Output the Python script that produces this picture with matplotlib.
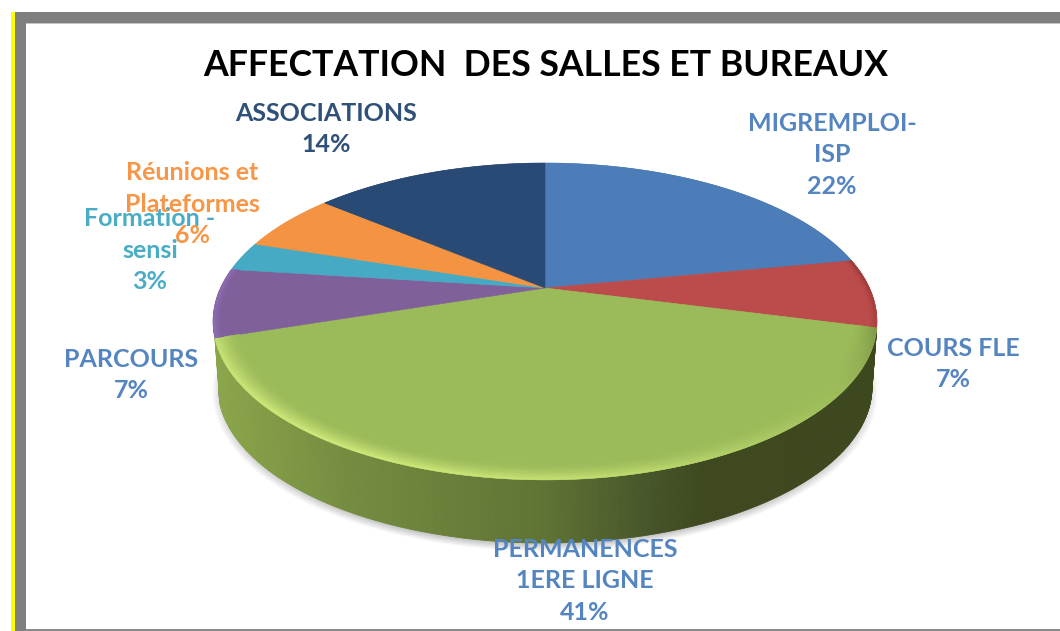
import numpy as np
import matplotlib
matplotlib.use("Agg")
import matplotlib.pyplot as plt
from matplotlib.collections import PolyCollection
from matplotlib.colors import to_rgb, LinearSegmentedColormap
from matplotlib.patches import Polygon, Rectangle

# ---- data ----
title = "AFFECTATION  DES SALLES ET BUREAUX"
categories = ["MIGREMPLOI-\nISP", "COURS FLE", "PERMANENCES\n1ERE LIGNE", "PARCOURS",
              "Formation -\nsensi", "Réunions et\nPlateformes", "ASSOCIATIONS"]
values = [22, 7, 41, 7, 3, 6, 14]
face_colors = ["#4c7db8", "#bb4c4b", "#9bba59", "#7f609a", "#46aac4", "#f49443", "#294a74"]
wall_colors = ["#3c6290", "#6e2524", "#6f8a3c", "#8366a8", "#3a8ca2", "#c0702e", "#1e3654"]
label_colors = ["#5585c0", "#5585c0", "#5585c0", "#5585c0", "#4bacc6", "#f79646", "#2f5078"]
label_xy = [(832, 155), (953, 364), (585, 581), (131, 375), (150, 250), (192, 204), (326, 129)]

# ---- projection of the tilted disc onto the picture ----
CX, CY, A, B, K = 545.0, 288.0, 324.5, 151.4, 0.211
DEPTH, BOTTOM_SCALE = 66.0, 0.985


def project(theta, r=1.0, dy=0.0, s=1.0):
    u, v = r * np.sin(theta), r * np.cos(theta)
    w = 1 + K * v
    return np.column_stack([CX + s * A * u / w, CY + dy - s * B * v / w])


def blend(c1, c2, t):
    return tuple(np.array(to_rgb(c1)) * (1 - t) + np.array(to_rgb(c2)) * t)


fig = plt.figure(figsize=(10.6, 6.31), dpi=100, facecolor="white")
ax = fig.add_axes([0, 0, 1, 1])
ax.set_xlim(0, 1060)
ax.set_ylim(631, 0)
ax.axis("off")

# ---- frame ----
ax.add_patch(Rectangle((11, 12), 4.5, 619, fc="#ffff00", ec="none", zorder=1))
ax.add_patch(Rectangle((15, 12), 1045, 11, fc="#7f7f7f", ec="none", zorder=2))
ax.add_patch(Rectangle((15, 12), 11, 619, fc="#7f7f7f", ec="none", zorder=2))
ax.add_patch(Rectangle((26, 629), 1034, 2, fc="#8a8a8a", ec="none", zorder=2))
ax.add_patch(Rectangle((26, 23), 1034, 1, fc="#c4c4c4", ec="none", zorder=2))

# ---- soft shadow ----
full = np.linspace(0, 2 * np.pi, 361)
for i in range(14):
    grow = 1.018 - i * 0.0028
    ax.add_patch(Polygon(project(full, dy=DEPTH + 5, s=BOTTOM_SCALE * grow),
                         closed=True, fc="black", ec="none", alpha=0.016, zorder=3))

# ---- angles ----
fractions = np.array(values, dtype=float) / np.sum(values)
edges = np.concatenate([[0], np.cumsum(fractions)]) * 2 * np.pi

# ---- side walls ----
stops = [(0.00, "#8aa54a"), (0.20, "#748c40"), (0.50, "#5f7334"),
         (0.66, "#47552a"), (0.74, "#3e4920"), (1.00, "#3d481f")]
wall_cmap = LinearSegmentedColormap.from_list("wall", stops)

for i, (a0, a1) in enumerate(zip(edges[:-1], edges[1:])):
    th = np.linspace(a0, a1, max(int(np.degrees(a1 - a0) * 2), 2))
    top = project(th)
    bot = project(th, dy=DEPTH, s=BOTTOM_SCALE)
    if i == 2:
        quads = [np.array([top[j], top[j + 1], bot[j + 1], bot[j]]) for j in range(len(th) - 1)]
        cols = [wall_cmap(np.clip((q[:, 0].mean() - 218) / 654, 0, 1)) for q in quads]
        ax.add_collection(PolyCollection(quads, facecolors=cols, edgecolors=cols,
                                         linewidths=0.6, zorder=5))
    else:
        ax.add_patch(Polygon(np.vstack([top, bot[::-1]]), closed=True,
                             fc=wall_colors[i], ec="none", zorder=4))

# ---- top faces ----
for i, (a0, a1) in enumerate(zip(edges[:-1], edges[1:])):
    th = np.linspace(a0, a1, max(int(np.degrees(a1 - a0) * 2), 2))
    pts = np.vstack([[[CX, CY]], project(th)])
    ax.add_patch(Polygon(pts, closed=True, fc=face_colors[i], ec=face_colors[i],
                         lw=0.4, zorder=6))

# ---- bevel on the rim ----
LIGHT_DIR = np.radians(215)
rings = np.linspace(0.93, 1.0, 9)
for i, (a0, a1) in enumerate(zip(edges[:-1], edges[1:])):
    if i == 2:
        gain, hi, lo, start = 1.0, "#d2ec7c", "#465423", 0.93
    elif i == 1:
        gain, hi, lo, start = 0.7, "#d06060", "#6a2020", 0.975
    elif i == 3:
        gain, hi, lo, start = 0.6, "#9a78c8", "#4a3560", 0.975
    else:
        continue
    th = np.linspace(a0, a1, max(int(np.degrees(a1 - a0)), 2))
    quads, cols = [], []
    for r0, r1 in zip(rings[:-1], rings[1:]):
        mid = 0.5 * (r0 + r1)
        if mid < start:
            continue
        g = ((mid - start) / (1.0 - start)) ** 1.6 * gain
        for t0, t1 in zip(th[:-1], th[1:]):
            p0 = project(np.array([t0, t1]), r=r0)
            p1 = project(np.array([t1, t0]), r=r1)
            quads.append(np.vstack([p0, p1]))
            light = np.cos(0.5 * (t0 + t1) - LIGHT_DIR)
            if i == 3:
                light = 1.0
            cols.append(blend(face_colors[i], hi if light > 0 else lo,
                              min(abs(light) * g, 1.0)))
    ax.add_collection(PolyCollection(quads, facecolors=cols, edgecolors=cols,
                                     linewidths=0.3, zorder=7))

# ---- text ----
ax.text(546, 66, title, ha="center", va="center", fontsize=25.7, fontweight="bold",
        family="Lato", color="black", zorder=10)
for name, val, col, (x, y) in zip(categories, fractions, label_colors, label_xy):
    ax.text(x, y, f"{name}\n{round(val * 100)}%", ha="center", va="center",
            fontsize=18, fontweight="bold", family="Lato", color=col,
            linespacing=1.46, zorder=10)

fig.savefig("out.png", dpi=100, facecolor="white")
